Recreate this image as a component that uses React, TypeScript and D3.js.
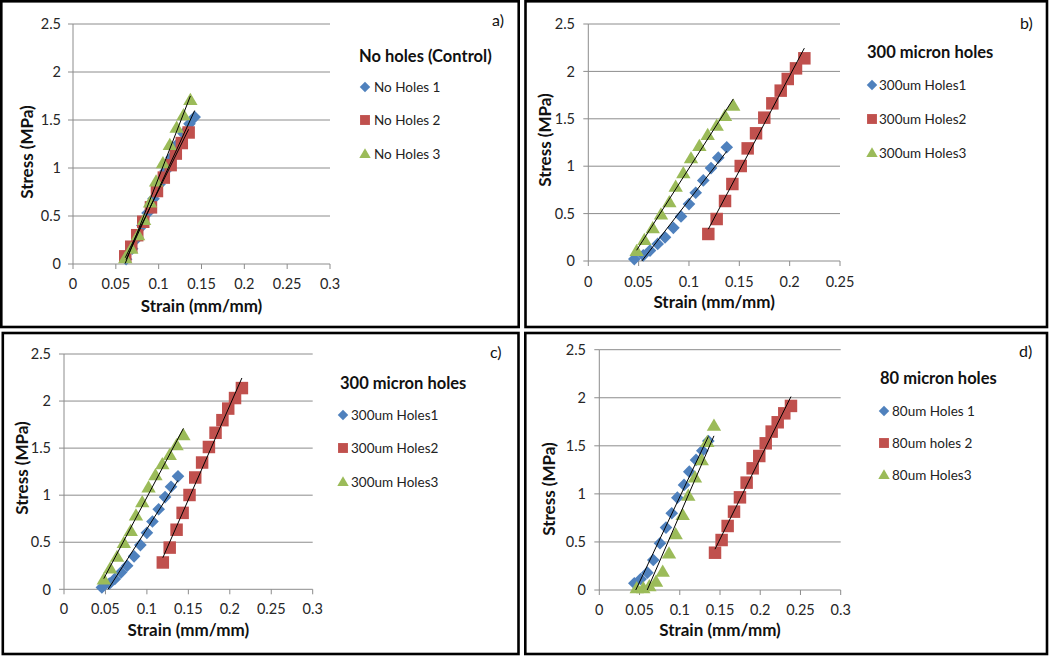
import React from "react";
import * as d3 from "d3";

// ---------------- data ----------------
const Y_TICKS = [0, 0.5, 1, 1.5, 2, 2.5];
const X_TICKS_030 = [0, 0.05, 0.1, 0.15, 0.2, 0.25, 0.3];
const X_TICKS_025 = [0, 0.05, 0.1, 0.15, 0.2, 0.25];

const TITLE_A = "No holes (Control)";
const NAMES_A = ["No Holes 1", "No Holes 2", "No Holes 3"];
const TITLE_B = "300 micron holes";
const NAMES_B = ["300um Holes1", "300um Holes2", "300um Holes3"];
const TITLE_D = "80 micron holes";
const NAMES_D = ["80um Holes 1", "80um holes 2", "80um Holes3"];

const X_TITLE = "Strain (mm/mm)";
const Y_TITLE = "Stress (MPa)";

const noHoles1: [number, number][] = [
  [0.062, 0.05], [0.069, 0.16], [0.075, 0.27], [0.081, 0.4], [0.087, 0.53],
  [0.094, 0.68], [0.101, 0.83], [0.108, 0.97], [0.115, 1.11], [0.122, 1.25],
  [0.129, 1.36], [0.136, 1.46], [0.142, 1.53],
];
const noHoles2: [number, number][] = [
  [0.061, 0.08], [0.068, 0.18], [0.075, 0.3], [0.082, 0.44], [0.091, 0.59],
  [0.098, 0.76], [0.106, 0.9], [0.114, 1.03], [0.12, 1.15], [0.127, 1.26],
  [0.135, 1.37],
];
const noHoles3: [number, number][] = [
  [0.061, 0.06], [0.068, 0.16], [0.076, 0.3], [0.083, 0.46], [0.09, 0.64],
  [0.097, 0.86], [0.105, 1.05], [0.113, 1.24], [0.121, 1.42], [0.129, 1.55],
  [0.137, 1.71],
];

const holes300_1: [number, number][] = [
  [0.0457, 0.02], [0.0546, 0.06], [0.0613, 0.11], [0.0689, 0.18], [0.0762, 0.25],
  [0.0845, 0.35], [0.0921, 0.47], [0.1, 0.6], [0.1067, 0.72], [0.1142, 0.85],
  [0.1219, 0.98], [0.1291, 1.09], [0.1375, 1.2],
];
const holes300_2: [number, number][] = [
  [0.1192, 0.285], [0.1275, 0.443], [0.1358, 0.633], [0.1431, 0.812], [0.1514, 1.002],
  [0.1583, 1.188], [0.1666, 1.347], [0.1748, 1.512], [0.1828, 1.663], [0.1911, 1.797],
  [0.1981, 1.92], [0.2063, 2.032], [0.2146, 2.138],
];
const holes300_3: [number, number][] = [
  [0.048, 0.105], [0.0557, 0.222], [0.064, 0.345], [0.0722, 0.492], [0.0805, 0.619],
  [0.0868, 0.784], [0.0944, 0.925], [0.102, 1.083], [0.1103, 1.213], [0.1186, 1.329],
  [0.1275, 1.427], [0.1358, 1.53], [0.144, 1.638],
];

const holes80_1: [number, number][] = [
  [0.0435, 0.07], [0.0514, 0.114], [0.0597, 0.18], [0.0671, 0.312], [0.0754, 0.486],
  [0.0829, 0.649], [0.09, 0.798], [0.097, 0.961], [0.1053, 1.093], [0.1118, 1.231],
  [0.1202, 1.353], [0.128, 1.45], [0.1355, 1.55],
];
const holes80_2: [number, number][] = [
  [0.1438, 0.388], [0.152, 0.52], [0.1595, 0.666], [0.1674, 0.815], [0.1748, 0.964],
  [0.1831, 1.117], [0.1906, 1.266], [0.1988, 1.394], [0.2068, 1.526], [0.2142, 1.648],
  [0.2217, 1.745], [0.2299, 1.838], [0.2382, 1.915],
];
const holes80_3: [number, number][] = [
  [0.0465, 0.018], [0.0547, 0.018], [0.0622, 0.04], [0.0705, 0.087], [0.0788, 0.19],
  [0.0866, 0.38], [0.0949, 0.58], [0.1036, 0.78], [0.1106, 0.98], [0.1189, 1.17],
  [0.1273, 1.35], [0.1342, 1.54], [0.1425, 1.71],
];

// ---------------- styles / layout ----------------
const FONT = "Lato, 'Open Sans', sans-serif";
const COLORS = ["#4F81BD", "#C0504D", "#9BBB59"];
const GRID = "#8c8c8c";

type Layout = {
  x0: number; x1: number; y0: number; y1: number;
  border: [number, number, number, number];
  yLabelRight: number; xLabelBase: number; xTitleBase: number;
  yTitleX: number; yTitleY: number;
  legX: number; legTitleBase: number; legItemY: number[];
  legMarkerX: number; legTextX: number;
  letterX: number; letterBase: number;
};

const PANELS = [
  {
    key: "a", series: [noHoles1, noHoles2, noHoles3], names: NAMES_A, title: TITLE_A,
    xTicks: X_TICKS_030, xMax: 0.3, letter: "a)",
    layout: {
      x0: 73, x1: 330, y0: 264, y1: 24, border: [1.3, 1.3, 518.7, 327],
      yLabelRight: 61, xLabelBase: 289, xTitleBase: 312, yTitleX: 27, yTitleY: 152,
      legX: 359, legTitleBase: 62, legItemY: [87, 120, 154], legMarkerX: 365, legTextX: 374,
      letterX: 492, letterBase: 26,
    } as Layout,
  },
  {
    key: "b", series: [holes300_1, holes300_2, holes300_3], names: NAMES_B, title: TITLE_B,
    xTicks: X_TICKS_025, xMax: 0.25, letter: "b)",
    layout: {
      x0: 588.3, x1: 840, y0: 261, y1: 24, border: [525.5, 1.3, 1047, 327],
      yLabelRight: 575, xLabelBase: 287, xTitleBase: 308, yTitleX: 545, yTitleY: 140,
      legX: 867, legTitleBase: 58, legItemY: [85, 119, 153], legMarkerX: 872, legTextX: 879,
      letterX: 1020, letterBase: 29,
    } as Layout,
  },
  {
    key: "c", series: [holes300_1, holes300_2, holes300_3], names: NAMES_B, title: TITLE_B,
    xTicks: X_TICKS_030, xMax: 0.3, letter: "c)",
    layout: {
      x0: 64, x1: 312.7, y0: 589.3, y1: 354, border: [2.8, 333, 518.5, 654],
      yLabelRight: 51, xLabelBase: 614, xTitleBase: 636, yTitleX: 22, yTitleY: 468,
      legX: 340, legTitleBase: 389, legItemY: [415, 448, 482], legMarkerX: 343, legTextX: 351,
      letterX: 490, letterBase: 358,
    } as Layout,
  },
  {
    key: "d", series: [holes80_1, holes80_2, holes80_3], names: NAMES_D, title: TITLE_D,
    xTicks: X_TICKS_030, xMax: 0.3, letter: "d)",
    layout: {
      x0: 599.3, x1: 840.7, y0: 590, y1: 349.7, border: [525.3, 333, 1047, 654],
      yLabelRight: 586, xLabelBase: 615, xTitleBase: 636, yTitleX: 549, yTitleY: 489,
      legX: 880, legTitleBase: 384, legItemY: [411, 443, 475], legMarkerX: 884, legTextX: 892,
      letterX: 1019, letterBase: 357,
    } as Layout,
  },
];

// ---------------- helpers ----------------
function markerPath(kind: number, cx: number, cy: number, s: number) {
  if (kind === 0) {
    const r = s * 0.55;
    return `M${cx},${cy - r}L${cx + r},${cy}L${cx},${cy + r}L${cx - r},${cy}Z`;
  }
  if (kind === 1) {
    const h = s * 0.52;
    return `M${cx - h},${cy - h}L${cx + h},${cy - h}L${cx + h},${cy + h}L${cx - h},${cy + h}Z`;
  }
  const w = s * 0.6, hh = s * 1.0;
  return `M${cx},${cy - hh * 0.6}L${cx + w},${cy + hh * 0.42}L${cx - w},${cy + hh * 0.42}Z`;
}

function linFit(pts: [number, number][]) {
  const mx = d3.mean(pts, (p) => p[0])!;
  const my = d3.mean(pts, (p) => p[1])!;
  const sxy = d3.sum(pts, (p) => (p[0] - mx) * (p[1] - my));
  const sxx = d3.sum(pts, (p) => (p[0] - mx) ** 2);
  const m = sxy / sxx;
  const b = my - m * mx;
  const [lo, hi] = d3.extent(pts, (p) => p[0]) as [number, number];
  return [[lo, m * lo + b], [hi, m * hi + b]] as [number, number][];
}

const fmt = (v: number) => String(v);

function Panel({ p }: { p: (typeof PANELS)[number] }) {
  const L = p.layout;
  const x = d3.scaleLinear().domain([0, p.xMax]).range([L.x0, L.x1]);
  const y = d3.scaleLinear().domain([0, 2.5]).range([L.y0, L.y1]);
  const line = d3.line<[number, number]>().x((d) => x(d[0])).y((d) => y(d[1]));
  const clipId = `clip-${p.key}`;
  const [bx0, by0, bx1, by1] = L.border;
  return (
    <g>
      <rect x={bx0} y={by0} width={bx1 - bx0} height={by1 - by0} fill="#fff" stroke="#000" strokeWidth={2.6} />
      <defs>
        <clipPath id={clipId}>
          <rect x={L.x0} y={L.y1} width={L.x1 - L.x0} height={L.y0 - L.y1} />
        </clipPath>
      </defs>
      {Y_TICKS.filter((t) => t > 0).map((t) => (
        <line key={"g" + t} x1={L.x0} x2={L.x1} y1={y(t)} y2={y(t)} stroke={GRID} strokeWidth={1} />
      ))}
      <line x1={L.x0} x2={L.x1} y1={y(0)} y2={y(0)} stroke={GRID} strokeWidth={1} />
      <line x1={L.x0} x2={L.x0} y1={y(0)} y2={y(2.5)} stroke={GRID} strokeWidth={1} />
      {Y_TICKS.map((t) => (
        <line key={"yt" + t} x1={L.x0 - 5} x2={L.x0} y1={y(t)} y2={y(t)} stroke={GRID} strokeWidth={1} />
      ))}
      {p.xTicks.map((t) => (
        <line key={"xt" + t} x1={x(t)} x2={x(t)} y1={y(0)} y2={y(0) + 5} stroke={GRID} strokeWidth={1} />
      ))}
      {Y_TICKS.map((t) => (
        <text key={"yl" + t} x={L.yLabelRight} y={y(t)} dy="0.36em" textAnchor="end"
          fontFamily={FONT} fontSize={14.5} fill="#262626">{fmt(t)}</text>
      ))}
      {p.xTicks.map((t) => (
        <text key={"xl" + t} x={x(t)} y={L.xLabelBase} textAnchor="middle"
          fontFamily={FONT} fontSize={14.5} fill="#262626">{fmt(t)}</text>
      ))}
      <text x={(L.x0 + L.x1) / 2} y={L.xTitleBase} textAnchor="middle" fontFamily={FONT}
        fontSize={17} fontWeight={700} fill="#111">{X_TITLE}</text>
      <text transform={`translate(${L.yTitleX},${L.yTitleY}) rotate(-90)`} dy="0.35em" textAnchor="middle"
        fontFamily={FONT} fontSize={17} fontWeight={700} fill="#111">{Y_TITLE}</text>
      {p.series.map((s, si) => (
        <g key={"s" + si}>
          {s.map((d, i) => (
            <path key={i} d={markerPath(si, x(d[0]), y(d[1]), si === 0 ? 11.5 : 12)} fill={COLORS[si]} />
          ))}
        </g>
      ))}
      <g clipPath={`url(#${clipId})`}>
        {p.series.map((s, si) => (
          <path key={"t" + si} d={line(linFit(s))!} fill="none" stroke="#000" strokeWidth={1} />
        ))}
      </g>
      <text x={L.legX} y={L.legTitleBase} fontFamily={FONT} fontSize={16.5} fontWeight={700} fill="#111">{p.title}</text>
      {p.names.map((n, i) => (
        <g key={"l" + i}>
          <path d={markerPath(i, L.legMarkerX, L.legItemY[i], 9.5)} fill={COLORS[i]} />
          <text x={L.legTextX} y={L.legItemY[i]} dy="0.36em" fontFamily={FONT} fontSize={13.5} fill="#222">{n}</text>
        </g>
      ))}
      <text x={L.letterX} y={L.letterBase} fontFamily={FONT} fontSize={16} fill="#111">{p.letter}</text>
    </g>
  );
}

export default function App() {
  return (
    <div style={{ position: "absolute", left: 0, top: 0 }}>
      <svg width={1050} height={656} style={{ display: "block", background: "#fff" }}>
        <rect x={0} y={0} width={1050} height={656} fill="#fff" />
        {PANELS.map((p) => (
          <Panel key={p.key} p={p} />
        ))}
      </svg>
    </div>
  );
}
